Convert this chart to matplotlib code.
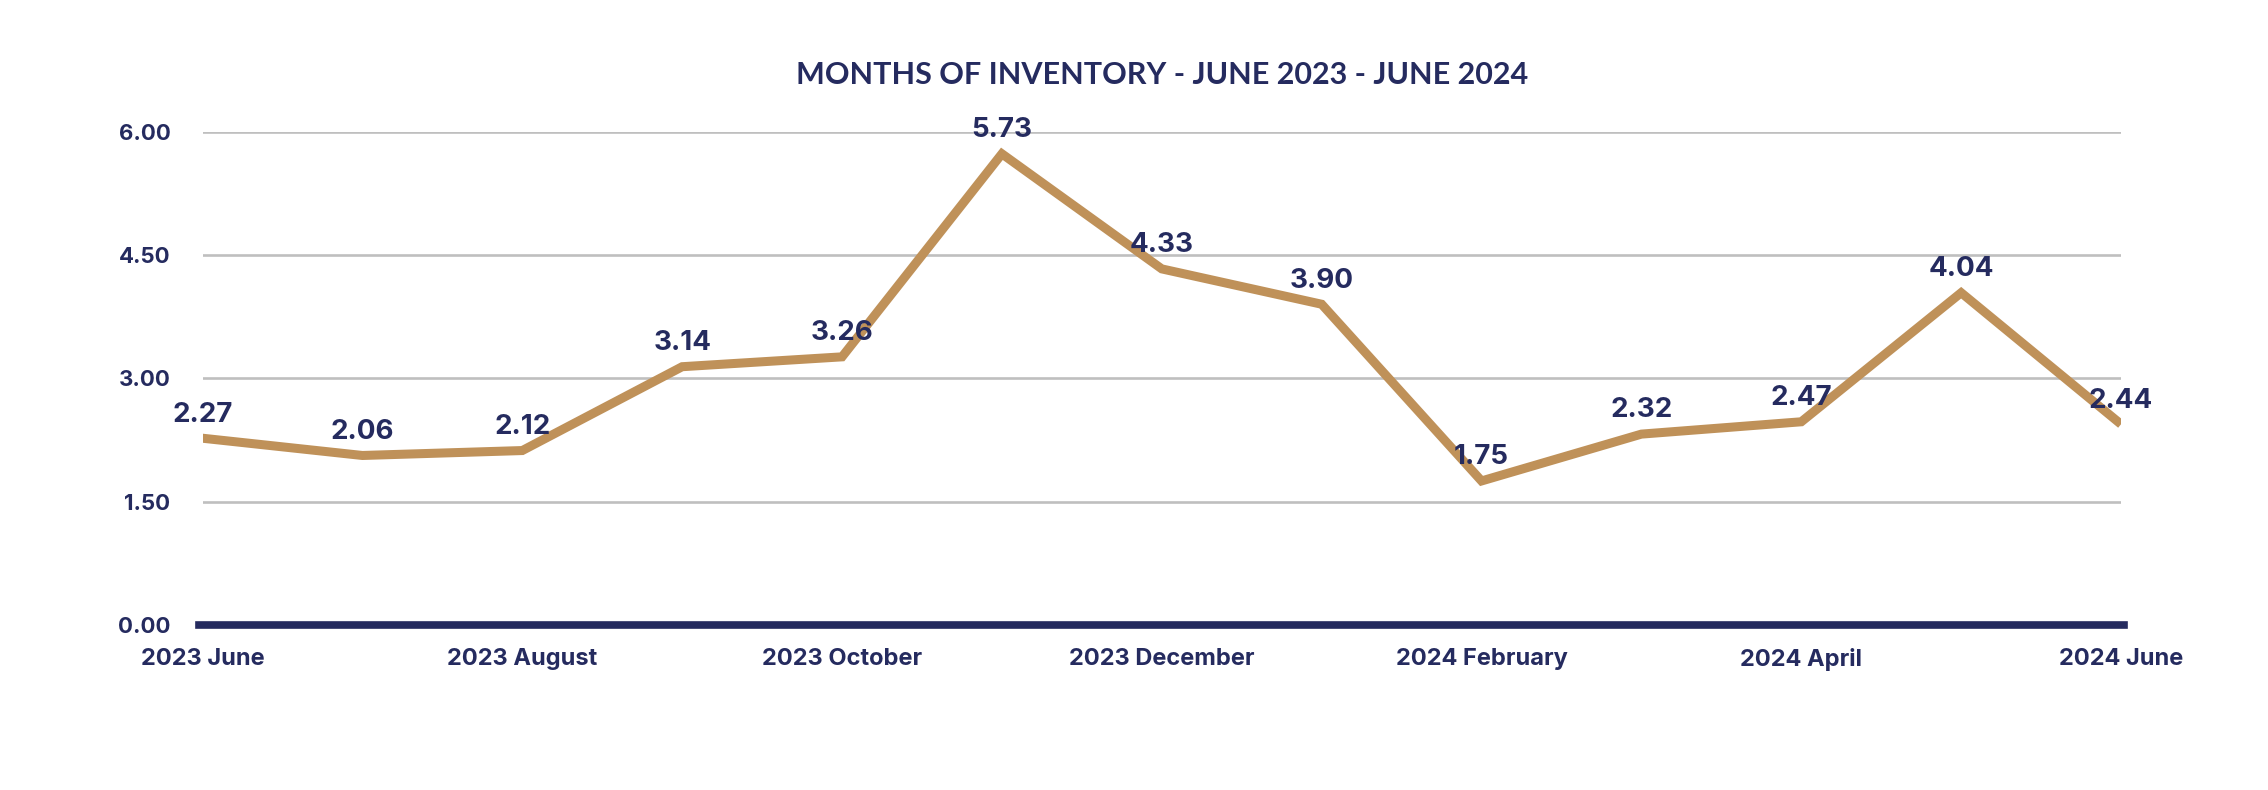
import matplotlib
matplotlib.use("Agg")
import matplotlib.pyplot as plt

months = ["2023 June", "2023 July", "2023 August", "2023 September", "2023 October",
          "2023 November", "2023 December", "2024 January", "2024 February",
          "2024 March", "2024 April", "2024 May", "2024 June"]
inventory = [2.27, 2.06, 2.12, 3.14, 3.26, 5.73, 4.33, 3.90, 1.75, 2.32, 2.47, 4.04, 2.44]
y_ticks = [0.0, 1.5, 3.0, 4.5, 6.0]

navy = "#252B5F"
tan = "#BF9159"

plt.rcParams['font.family'] = ['Inter', 'DejaVu Sans']

fig = plt.figure(figsize=(22.68, 7.9), dpi=100)
ax = fig.add_axes([0.0893, 0.2091, 0.8459, 0.6243])

x = list(range(len(months)))
ax.plot(x, inventory, color=tan, lw=6.5, solid_joinstyle="miter", solid_capstyle="butt", zorder=3)

# value labels above each point
for xi, v in zip(x, inventory):
    ax.annotate(f"{v:.2f}", (xi, v), xytext=(0, 17), textcoords="offset points",
                ha="center", va="center", fontsize=20, fontweight="bold", color=navy, zorder=4)

ax.set_xlim(0, len(months) - 1)
ax.set_ylim(0, 6)
ax.set_yticks(y_ticks)
ax.set_yticklabels([f"{t:.2f}" for t in y_ticks])
ax.set_xticks(x[::2])
ax.set_xticklabels(months[::2])

ax.yaxis.grid(True, color="#BFBFBF", lw=1.9)
ax.set_axisbelow(True)
ax.axhline(0, xmin=-0.002, xmax=1.0015, color=navy, lw=5.5, clip_on=False, zorder=2)

for s in ax.spines.values():
    s.set_visible(False)
ax.tick_params(axis="both", length=0, colors=navy)
ax.tick_params(axis="y", pad=23, labelsize=16)
ax.tick_params(axis="x", pad=17, labelsize=17)
for lab in ax.get_xticklabels() + ax.get_yticklabels():
    lab.set_fontweight("bold")

fig.text(0.5124, 0.905, "MONTHS OF INVENTORY - JUNE 2023 - JUNE 2024", ha="center", va="center",
         fontsize=22, fontweight="bold", color=navy, family=["Lato", "DejaVu Sans"])

fig.savefig("out.png", dpi=100)
